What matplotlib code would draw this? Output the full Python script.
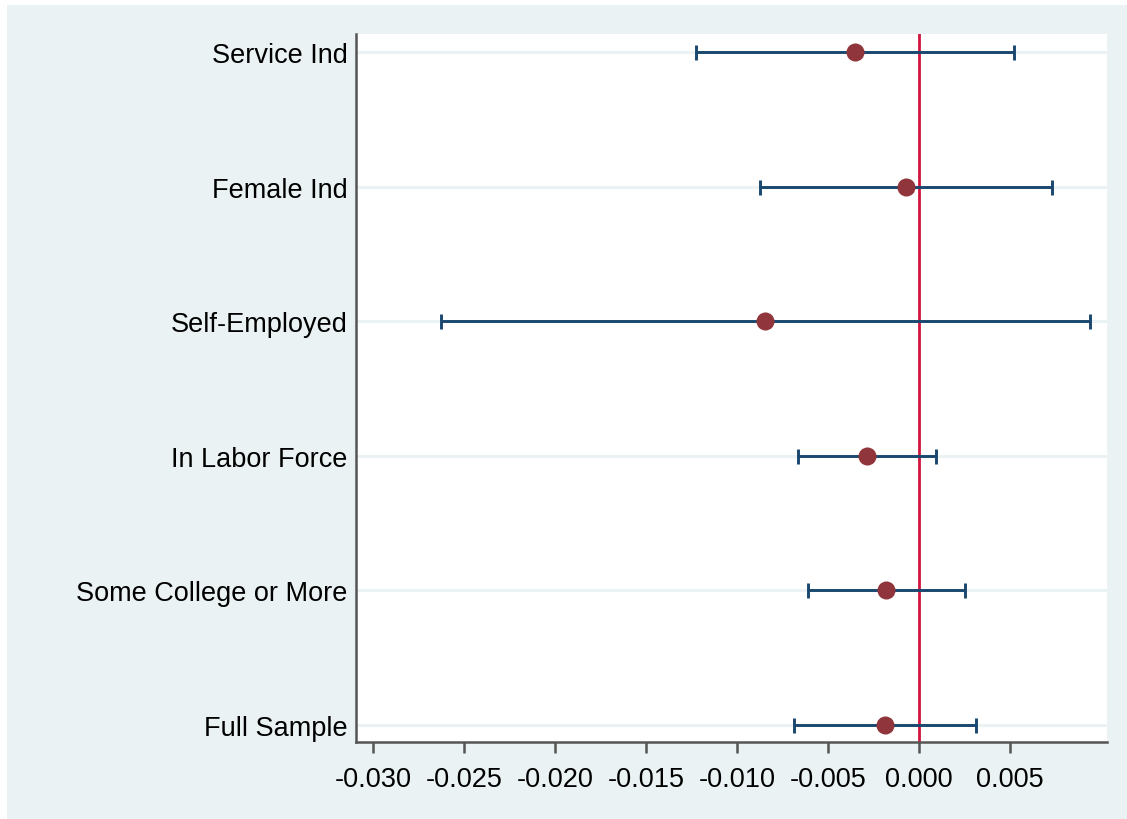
import matplotlib
matplotlib.use("Agg")
import matplotlib.pyplot as plt
from matplotlib.patches import Rectangle

# Point estimates with lower/upper confidence bounds
categories = ["Full Sample", "Some College or More", "In Labor Force",
              "Self-Employed", "Female Ind", "Service Ind"]
estimates = [-0.00187, -0.00182, -0.00286, -0.00848, -0.00072, -0.00352]
ci_lower = [-0.00688, -0.00611, -0.00666, -0.02627, -0.00874, -0.01225]
ci_upper = [0.00314, 0.00253, 0.00094, 0.00942, 0.00730, 0.00521]
xticks = [-0.030, -0.025, -0.020, -0.015, -0.010, -0.005, 0.000, 0.005]

BG = "#EAF2F3"
NAVY = "#1A476F"
MAROON = "#90353B"
REF = "#D2153F"

plt.rcParams["font.family"] = ["Liberation Sans", "DejaVu Sans"]

W, H = 1127, 820
fig = plt.figure(figsize=(W / 100, H / 100), dpi=100, facecolor=BG)
# thin white strips along the left and top edges
fig.patches.append(Rectangle((0, 0), 7 / W, 1, transform=fig.transFigure,
                             facecolor="white", edgecolor="none", zorder=-10))
fig.patches.append(Rectangle((0, 1 - 6 / H), 1, 6 / H, transform=fig.transFigure,
                             facecolor="white", edgecolor="none", zorder=-10))

left, right, top, bottom = 356, 1107, 35, 743
ax = fig.add_axes([left / W, 1 - bottom / H, (right - left) / W, (bottom - top) / H])
ax.set_facecolor("white")

ypos = list(range(1, len(categories) + 1))

for y in ypos:
    ax.axhline(y, color=BG, lw=2.2, zorder=1)

ax.axvline(0, color=REF, lw=2.0, zorder=2)

err_lo = [e - l for e, l in zip(estimates, ci_lower)]
err_hi = [u - e for e, u in zip(estimates, ci_upper)]
ax.errorbar(estimates, ypos, xerr=[err_lo, err_hi], fmt="none",
            ecolor=NAVY, elinewidth=2.1, capsize=5.4, capthick=2.1, zorder=3)
ax.plot(estimates, ypos, "o", color=MAROON, markersize=13, zorder=4,
        markeredgewidth=0)

ax.set_xlim(-0.03095, 0.01035)
ax.set_ylim(0.874, 6.134)
ax.set_xticks(xticks)
ax.set_xticklabels([f"{v:.3f}" for v in xticks])
ax.set_yticks(ypos)
ax.set_yticklabels(categories)

for s in ["top", "right"]:
    ax.spines[s].set_visible(False)
for s in ["left", "bottom"]:
    ax.spines[s].set_color("#555555")
    ax.spines[s].set_linewidth(1.8)

ax.tick_params(axis="x", length=8, width=1.8, color="#555555",
               labelsize=19.5, pad=9)
ax.tick_params(axis="y", length=0, labelsize=19.5, pad=6)

fig.savefig("out.png", dpi=100, facecolor=fig.get_facecolor())
